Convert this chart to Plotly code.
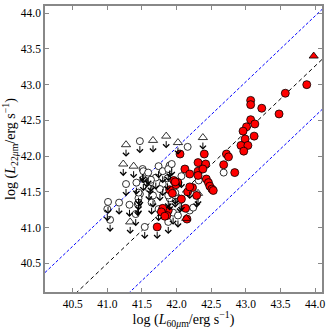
import plotly.graph_objects as go

# detections (red filled circles)
det_x = [43.88, 43.57, 43.07, 43.07, 43.23, 43.48, 43.07, 43.13, 43.01, 42.96,
         42.99, 43.12, 42.93, 43.03, 42.97, 42.72, 42.75, 42.68, 42.31, 42.42,
         42.40, 42.05, 42.12, 42.19, 42.31, 42.38, 42.43, 42.46, 42.48, 42.51,
         42.53, 42.84, 42.02, 41.96, 41.99, 41.90, 42.16, 42.23, 41.88, 41.86,
         42.13, 42.15, 41.80, 42.31, 41.94, 41.98, 41.78, 41.83]
det_y = [43.00, 42.88, 42.78, 42.72, 42.67, 42.59, 42.51, 42.45, 42.41, 42.35,
         42.24, 42.28, 42.15, 42.15, 42.07, 42.03, 41.99, 41.88, 41.91, 41.89,
         42.03, 42.03, 41.82, 41.75, 41.79, 41.82, 41.68, 41.63, 41.58, 41.54,
         41.52, 41.77, 41.63, 41.66, 41.60, 41.53, 41.50, 41.56, 41.24, 41.17,
         41.27, 41.12, 41.27, 41.73, 41.48, 41.64, 41.22, 41.16]

# red circles that are upper limits in L22
det_lim_x = [41.72, 42.29, 42.19, 42.07]
det_lim_y = [41.01, 41.45, 41.57, 41.40]

# red triangles
rtri_x = [43.98, 42.14]
rtri_y = [43.40, 41.13]

# open circles, upper limits
lim_x = [41.47, 41.51, 41.74, 41.90, 41.27, 41.42, 41.47, 41.62, 41.66, 41.80,
         41.01, 41.00, 41.17, 41.04, 41.32, 41.41, 41.44, 41.45, 41.54, 41.52,
         41.57, 41.64, 41.80, 41.88, 41.93, 41.76, 41.90, 41.98, 42.05, 41.95,
         42.02, 41.70, 41.60, 41.59, 41.52, 41.63, 41.87, 42.07, 41.45, 41.88,
         41.98, 41.45, 41.74, 41.88]
lim_y = [42.21, 41.82, 41.86, 41.87, 41.61, 41.63, 41.47, 41.63, 41.45, 41.61,
         41.36, 41.26, 41.35, 41.11, 41.32, 41.19, 41.33, 41.41, 41.01, 41.79,
         41.73, 41.35, 41.79, 41.82, 41.89, 41.54, 41.41, 41.45, 41.38, 41.21,
         41.17, 41.70, 41.55, 41.77, 41.68, 41.67, 41.69, 41.72, 41.49, 41.45,
         41.49, 41.35, 41.26, 41.08]

# open circles, no limit
open_x = [42.16, 42.68, 42.19, 42.32, 42.24]
open_y = [42.13, 41.77, 41.24, 41.66, 41.28]

# open triangles, upper limits
tri_x = [41.27, 41.66, 41.85, 41.23, 41.38, 42.02, 42.38, 41.33, 42.31]
tri_y = [42.16, 42.22, 42.28, 41.89, 41.86, 42.19, 42.26, 41.08, 41.48]

# best fit and scatter band
slope, intercept, band = 0.92, 2.78, 0.7
line_x = [40.1, 44.1]
axis_range = [40.1, 44.1]
tick_vals = [40.5, 41.0, 41.5, 42.0, 42.5, 43.0, 43.5, 44.0]

arrow_len = 0.17

fig = go.Figure()

for off, col in [(band, "#0000ff"), (-band, "#0000ff"), (0, "black")]:
    fig.add_trace(go.Scatter(
        x=line_x, y=[slope * v + intercept + off for v in line_x],
        mode="lines", line=dict(color=col, width=1, dash="3px,2px" if off else "4px,3px"),
        hoverinfo="skip", showlegend=False))

open_marker = dict(color="white", line=dict(color="black", width=0.8))
red_marker = dict(color="#ff0000", line=dict(color="black", width=0.8))

fig.add_trace(go.Scatter(x=lim_x, y=lim_y, mode="markers",
                         marker=dict(symbol="circle", size=7, **open_marker), showlegend=False))
fig.add_trace(go.Scatter(x=open_x, y=open_y, mode="markers",
                         marker=dict(symbol="circle", size=7, **open_marker), showlegend=False))
fig.add_trace(go.Scatter(x=tri_x, y=tri_y, mode="markers",
                         marker=dict(symbol="triangle-up", size=8, **open_marker), showlegend=False))
fig.add_trace(go.Scatter(x=det_x + det_lim_x, y=det_y + det_lim_y, mode="markers",
                         marker=dict(symbol="circle", size=8, **red_marker), showlegend=False))
fig.add_trace(go.Scatter(x=rtri_x, y=rtri_y, mode="markers",
                         marker=dict(symbol="triangle-up", size=8, **red_marker), showlegend=False))

# downward arrows for upper limits
for xs, ys in [(lim_x, lim_y), (tri_x, tri_y), (det_lim_x, det_lim_y)]:
    for x, y in zip(xs, ys):
        fig.add_annotation(x=x, y=y - arrow_len, ax=x, ay=y, xref="x", yref="y",
                           axref="x", ayref="y", text="", showarrow=True,
                           arrowhead=4, arrowsize=1.2, arrowwidth=1, arrowcolor="black",
                           startstandoff=3.5)

axis_style = dict(range=axis_range, tickvals=tick_vals, tickformat=".1f",
                  ticks="inside", ticklen=4, tickwidth=1, tickcolor="#888888",
                  showline=True, linecolor="#888888", linewidth=1.5, mirror="allticks",
                  showgrid=False, zeroline=False,
                  tickfont=dict(family="Liberation Serif", size=11.5, color="black"))

fig.update_xaxes(**axis_style, title=dict(
    text="log (<i>L</i><sub>60<i>μ</i>m</sub>/erg s<sup>−1</sup>)",
    font=dict(family="Liberation Serif", size=14, color="black"), standoff=4))
fig.update_yaxes(**axis_style, title=dict(
    text="log (<i>L</i><sub>22<i>μ</i>m</sub>/erg s<sup>−1</sup>)",
    font=dict(family="Liberation Serif", size=14, color="black"), standoff=4))

fig.update_layout(width=329, height=329, margin=dict(l=45, r=7, t=4, b=37),
                  plot_bgcolor="white", paper_bgcolor="white")

fig.write_html("out.html", config={"displayModeBar": False},
               post_script="document.body.style.margin='0';document.body.style.overflow='hidden';")
